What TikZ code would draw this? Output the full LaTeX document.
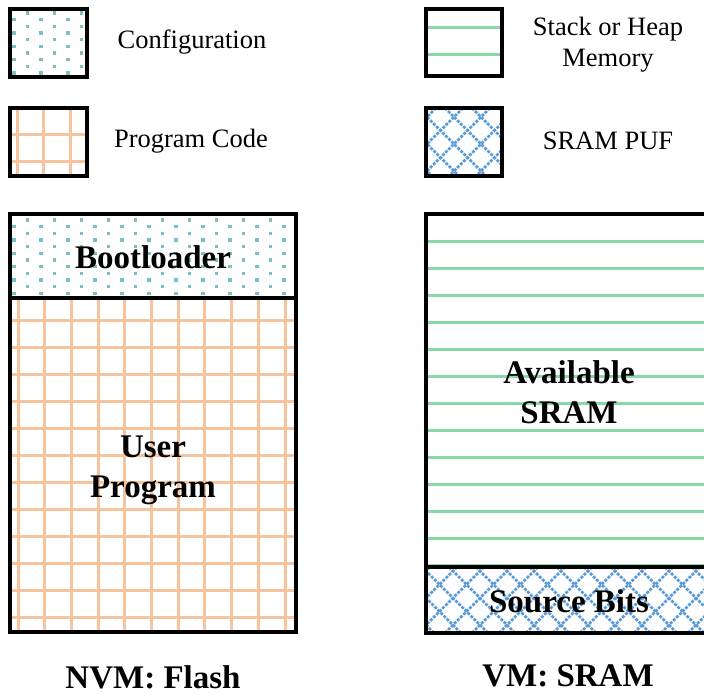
\documentclass[tikz,border=0pt]{standalone}
\usepackage{fontspec}
\setmainfont{Liberation Serif}

\definecolor{cfgdot}{RGB}{122,194,194}
\definecolor{codeline}{RGB}{247,195,156}
\definecolor{stackline}{RGB}{136,216,168}
\definecolor{pufline}{RGB}{91,155,213}

\tikzset{
  frame/.style={draw=black, line width=3.4pt},
  legendtext/.style={font=\fontsize{26.5}{31}\selectfont, align=center, inner sep=0pt},
  blocklabel/.style={font=\fontsize{33}{40}\selectfont\bfseries, align=center, inner sep=0pt},
  codegrid/.style={draw=codeline, line width=3pt},
  stackrule/.style={draw=stackline, line width=3pt},
  puflattice/.style={draw=pufline, line width=2.8pt, dash pattern=on 3pt off 1.3pt},
}

% staggered dot field: #1..#4 = box corners, #5,#6 = first dot
\newcommand\cfgfield[6]{%
  \begin{scope}
    \clip (#1,#2) rectangle (#3,#4);
    \foreach \i in {0,...,22}{\foreach \j in {0,...,14}{%
      \ifodd\numexpr\i+\j\relax
        \fill[cfgdot] ({#5+13.5*\i-1.6},{#6+6.67*\j-1.6}) rectangle ++(3.2,3.2);
      \fi}}
  \end{scope}}

% square grid: #5,#6 = one vertical / one horizontal line
\newcommand\codefield[6]{%
  \begin{scope}
    \clip (#1,#2) rectangle (#3,#4);
    \foreach \k in {-16,...,16}{%
      \draw[codegrid] ({#5+26.7*\k},#2) -- ({#5+26.7*\k},#4);
      \draw[codegrid] (#1,{#6+27*\k}) -- (#3,{#6+27*\k});}
  \end{scope}}

% horizontal rules: #5 = first rule, #6 = number of extra rules
\newcommand\stackfield[6]{%
  \begin{scope}
    \clip (#1,#2) rectangle (#3,#4);
    \foreach \k in {0,...,#6}{%
      \draw[stackrule] (#1,{#5+27*\k}) -- (#3,{#5+27*\k});}
  \end{scope}}

% diagonal lattice: lines x-y=#5+27k and x+y=#6+27k
\newcommand\puffield[6]{%
  \begin{scope}
    \clip (#1,#2) rectangle (#3,#4);
    \foreach \k in {-9,...,9}{%
      \draw[puflattice] ({#2+#5+27*\k},#2) -- ({#4+#5+27*\k},#4);
      \draw[puflattice] ({#6+27*\k-#2},#2) -- ({#6+27*\k-#4},#4);}
  \end{scope}}

\begin{document}
\begin{tikzpicture}[x=1pt,y=-1pt]
  \useasboundingbox (0,0) rectangle (704,696);
  \clip (0,0) rectangle (704,696);

  % ---------- legend ----------
  \cfgfield{10}{9}{87}{77}{14}{13}
  \draw[frame] (10,9) rectangle (87,77);
  \node[legendtext] (lgcfg) at (192,42) {Configuration};

  \codefield{10}{108}{87}{176}{17}{134}
  \draw[frame] (10,108) rectangle (87,176);
  \node[legendtext] (lgcode) at (191,141) {Program Code};

  \stackfield{426}{9}{502}{76}{27}{1}
  \draw[frame] (426,9) rectangle (502,76);
  \node[legendtext] (lgstack) at (608,45) {Stack or Heap\\Memory};

  \puffield{426}{108}{502}{176}{337}{571}
  \draw[frame] (426,108) rectangle (502,176);
  \node[legendtext] (lgpuf) at (608,141) {SRAM PUF};

  % ---------- NVM: flash ----------
  \cfgfield{10}{214}{296}{298}{14}{220}
  \codefield{10}{298}{296}{632}{18}{428}
  \draw[frame] (10,214) rectangle (296,632);
  \draw[frame] (10,298) -- (296,298);
  \node[blocklabel] (boot) at (153,257) {Bootloader};
  \node[blocklabel] (user) at (153,470) {User\\Program};
  \node[blocklabel] (nvm) at (153,677) {NVM: Flash};

  % ---------- VM: SRAM ----------
  \stackfield{426}{214}{712}{567}{241}{12}
  \puffield{426}{567}{712}{633}{-10}{1186}
  \draw[frame] (426,214) rectangle (712,633);
  \draw[frame] (426,567) -- (712,567);
  \node[blocklabel] (avail) at (569,392) {Available\\SRAM};
  \node[blocklabel] (src) at (569,601) {Source Bits};
  \node[blocklabel] (vm) at (568,676) {VM: SRAM};
\end{tikzpicture}
\end{document}
